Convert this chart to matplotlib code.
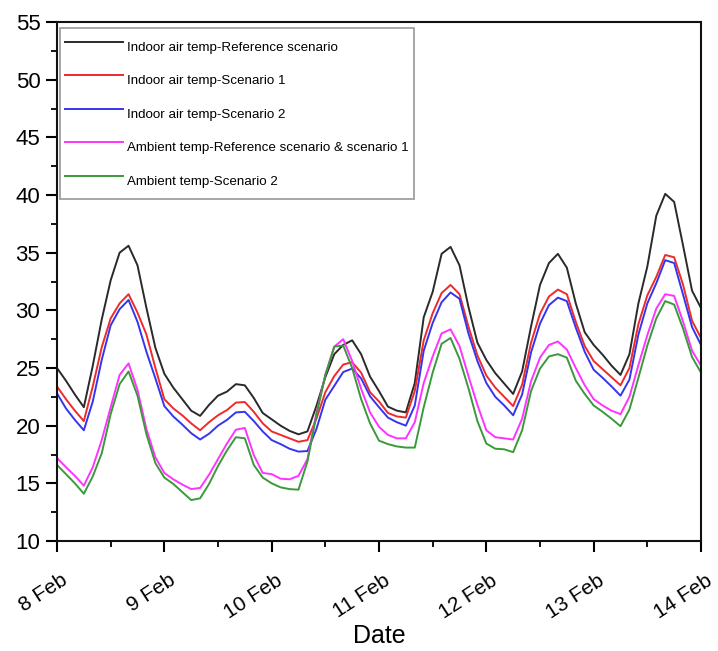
import numpy as np
import matplotlib
matplotlib.use("Agg")
import matplotlib.pyplot as plt
from matplotlib.ticker import MultipleLocator
from matplotlib.transforms import ScaledTranslation

plt.rcParams['font.family'] = ['Liberation Sans', 'DejaVu Sans']

# time grid: every 2 hours from 8 Feb 00:00 to 14 Feb 00:00 (in days)
hours = np.arange(0, 145, 2)
days = hours / 24.0

tick_labels = ["8 Feb", "9 Feb", "10 Feb", "11 Feb", "12 Feb", "13 Feb", "14 Feb"]

indoor_ref = [25.0, 23.9, 22.7, 21.6, 25.2, 29.2, 32.6, 35.0, 35.6, 33.9, 30.2, 26.75,
              24.5, 23.3, 22.3, 21.3, 20.85, 21.8, 22.6, 22.95, 23.6, 23.5, 22.4, 21.1,
              20.55, 20.0, 19.55, 19.25, 19.5, 21.7, 24.2, 26.2, 27.0, 27.4, 26.2, 24.25,
              23.0, 21.65, 21.3, 21.15, 23.7, 29.4, 31.6, 34.9, 35.5, 33.9, 30.3, 27.2,
              25.7, 24.55, 23.65, 22.75, 24.7, 28.6, 32.2, 34.1, 34.9, 33.7, 30.6, 28.1,
              27.0, 26.15, 25.2, 24.4, 26.2, 30.6, 33.8, 38.2, 40.1, 39.4, 35.6, 31.7, 30.2]
indoor_s1 = [23.4, 22.3, 21.3, 20.4, 23.4, 26.8, 29.3, 30.6, 31.4, 29.8, 27.9, 25.0,
             22.3, 21.5, 20.9, 20.2, 19.6, 20.3, 20.9, 21.35, 22.0, 22.05, 21.2, 20.2,
             19.5, 19.2, 18.9, 18.6, 18.75, 20.6, 22.9, 24.3, 25.3, 25.5, 24.6, 22.9,
             22.1, 21.1, 20.8, 20.7, 23.0, 27.4, 29.75, 31.5, 32.2, 31.4, 28.6, 26.1,
             24.35, 23.3, 22.5, 21.7, 23.55, 27.2, 29.7, 31.2, 31.8, 31.4, 29.0, 26.9,
             25.6, 24.9, 24.2, 23.5, 25.0, 28.8, 31.3, 32.9, 34.8, 34.6, 32.2, 29.1, 27.6]
indoor_s2 = [22.8, 21.5, 20.5, 19.6, 22.1, 25.7, 28.7, 30.1, 30.9, 29.0, 26.4, 24.1,
             21.7, 20.8, 20.1, 19.35, 18.8, 19.3, 20.0, 20.5, 21.15, 21.2, 20.4, 19.5,
             18.75, 18.4, 18.0, 17.75, 17.8, 19.7, 22.25, 23.45, 24.65, 24.95, 24.1, 22.55,
             21.6, 20.7, 20.3, 20.0, 21.75, 26.5, 28.9, 30.7, 31.55, 31.0, 28.0, 25.6,
             23.7, 22.5, 21.75, 20.9, 22.7, 26.35, 28.85, 30.45, 31.1, 30.8, 28.5, 26.4,
             24.85, 24.15, 23.4, 22.6, 24.0, 27.9, 30.6, 32.35, 34.35, 34.1, 31.35, 28.55, 27.0]
ambient_ref = [17.2, 16.4, 15.65, 14.8, 16.4, 18.75, 21.6, 24.4, 25.4, 23.1, 19.7, 17.25,
               15.9, 15.35, 14.9, 14.5, 14.6, 15.75, 17.1, 18.45, 19.65, 19.8, 17.45, 15.9,
               15.8, 15.4, 15.35, 15.65, 17.1, 21.1, 24.4, 26.85, 27.5, 25.6, 23.2, 21.15,
               19.9, 19.2, 18.9, 18.9, 20.3, 23.7, 26.0, 28.0, 28.35, 26.9, 24.3, 21.8,
               19.6, 19.0, 18.9, 18.8, 20.6, 23.85, 25.9, 27.0, 27.3, 26.6, 25.0, 23.5,
               22.3, 21.75, 21.3, 21.0, 22.5, 25.25, 27.85, 30.15, 31.4, 31.25, 29.0, 26.5, 25.2]
ambient_s2 = [16.6, 15.8, 15.0, 14.1, 15.6, 17.6, 21.0, 23.6, 24.7, 22.6, 19.25, 16.75,
              15.5, 14.95, 14.25, 13.55, 13.7, 14.95, 16.5, 17.85, 19.0, 18.9, 16.6, 15.5,
              15.0, 14.65, 14.5, 14.45, 16.9, 20.9, 24.4, 26.85, 26.95, 25.0, 22.3, 20.2,
              18.7, 18.4, 18.2, 18.1, 18.1, 21.6, 24.6, 27.1, 27.6, 25.8, 23.25, 20.4,
              18.45, 18.0, 17.95, 17.7, 19.6, 23.0, 24.95, 26.0, 26.2, 25.9, 23.9, 22.75,
              21.75, 21.2, 20.6, 19.95, 21.4, 24.15, 26.95, 29.3, 30.8, 30.5, 28.4, 25.95, 24.6]

series = [
    (indoor_ref, "Indoor air temp-Reference scenario", "#2a2a2a"),
    (indoor_s1, "Indoor air temp-Scenario 1", "#ee2a2a"),
    (indoor_s2, "Indoor air temp-Scenario 2", "#3535ee"),
    (ambient_ref, "Ambient temp-Reference scenario & scenario 1", "#ff33ff"),
    (ambient_s2, "Ambient temp-Scenario 2", "#3a9a3a"),
]

fig = plt.figure(figsize=(7.18, 6.51), dpi=100)
ax = fig.add_axes([57/718, 1-541/651, (701-57)/718, (541-22)/651])

for vals, label, color in series:
    ax.plot(days, vals, color=color, lw=1.4, label=label)

ax.set_xlim(0, 6)
ax.set_ylim(10, 55)
ax.set_xticks(np.arange(0, 7))
ax.set_xticklabels(tick_labels)
ax.xaxis.set_minor_locator(MultipleLocator(0.5))
ax.yaxis.set_major_locator(MultipleLocator(5))
ax.yaxis.set_minor_locator(MultipleLocator(2.5))

for sp in ax.spines.values():
    sp.set_linewidth(1.5)
    sp.set_color("#111111")

ax.tick_params(which='major', direction='out', length=8, width=1.5, labelsize=15, pad=4)
ax.tick_params(which='minor', direction='out', length=4.5, width=1.3)
ax.tick_params(axis='y', labelsize=16, pad=4)

offset = ScaledTranslation(9/100, -21/100, fig.dpi_scale_trans)
for lab in ax.get_xticklabels():
    lab.set_rotation(33)
    lab.set_rotation_mode('anchor')
    lab.set_ha('right')
    lab.set_va('center')
    lab.set_transform(lab.get_transform() + offset)

ax.set_xlabel("Date", fontsize=18)
ax.xaxis.set_label_coords(0.5, -0.16)

leg = ax.legend(loc='upper left', bbox_to_anchor=(0.0047, 0.988), borderaxespad=0,
                fontsize=9.6, handlelength=4.4, handleheight=2.8, handletextpad=0.3,
                labelspacing=0.45, frameon=True, fancybox=False, edgecolor='#888888',
                borderpad=0.35)
leg.get_frame().set_linewidth(1.3)

fig.savefig("out.png", dpi=100)
